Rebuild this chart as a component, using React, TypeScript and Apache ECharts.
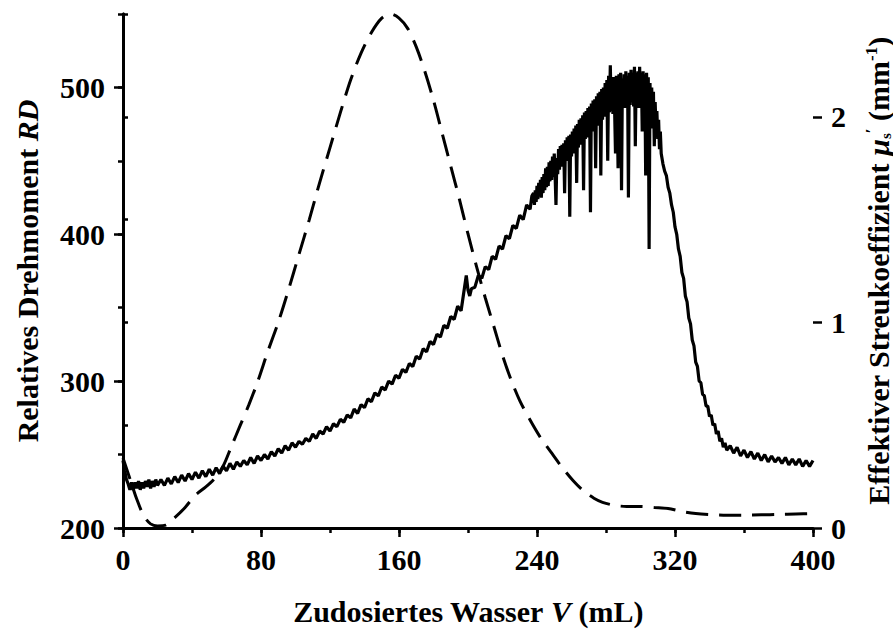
import React, { useEffect, useRef } from "react";
import * as echarts from "echarts";

// Tick values
const xMajorTicks = [0, 80, 160, 240, 320, 400];
const leftMajorTicks = [200, 300, 400, 500];
const rightMajorTicks = [0, 1, 2];

// Relatives Drehmoment RD (left axis) — [V (mL), RD]
const rdRise: [number, number][] = [
  [0, 246], [1, 239], [2, 233], [3, 230], [4, 226], [5, 231], [6, 226], [7, 231], [8, 227], [9, 232],
  [10, 226], [11, 231], [12, 227], [13, 232], [14, 228], [15, 233], [16, 227], [17, 232], [18, 228], [19, 233],
  [20, 229], [22, 233], [24, 229], [26, 234], [28, 230], [30, 235], [32, 231], [34, 236], [36, 232], [38, 237],
  [40, 233], [42, 238], [44, 234], [46, 239], [48, 235], [50, 240], [52, 236], [54, 241], [56, 237], [58, 242],
  [60, 239], [62, 244], [64, 240], [66, 245], [68, 242], [70, 246], [72, 243], [74, 248], [76, 244], [78, 249],
  [80, 246], [82, 250], [84, 247], [86, 252], [88, 249], [90, 254], [92, 251], [94, 256], [96, 253], [98, 258],
  [100, 255], [102, 259], [104, 257], [106, 261], [108, 259], [110, 264], [112, 261], [114, 266], [116, 264], [118, 269],
  [120, 266], [122, 271], [124, 269], [126, 274], [128, 272], [130, 277], [132, 275], [134, 281], [136, 278], [138, 284],
  [140, 282], [142, 288], [144, 286], [146, 292], [148, 290], [150, 296], [152, 294], [154, 300], [156, 298], [158, 304],
  [160, 302], [162, 308], [164, 306], [166, 312], [168, 310], [170, 317], [172, 315], [174, 322], [176, 320], [178, 327],
  [180, 325], [182, 332], [184, 330], [186, 338], [188, 336], [190, 344], [192, 342], [194, 351], [196, 348], [197, 356],
  [198, 364], [199, 372], [200, 362], [201, 358], [202, 363], [204, 364], [206, 372], [208, 370], [210, 378], [212, 376],
  [214, 385], [216, 383], [218, 392], [220, 390], [222, 399], [224, 397], [226, 406], [228, 404], [230, 413], [232, 410],
  [234, 420], [236, 417], [237, 426],
];

const rdPeak: [number, number][] = [
  [238, 428], [238.5, 420], [239, 430], [239.5, 422], [240, 433], [240.5, 424], [241, 435], [241.5, 426], [242, 437], [242.5, 425],
  [243, 439], [243.5, 428], [244, 441], [244.5, 430], [245, 445], [245.5, 432], [246, 446], [246.5, 433], [247, 449], [247.5, 436],
  [248, 450], [248.5, 437], [249, 453], [249.5, 439], [250, 455], [250.5, 440], [251, 420], [251.5, 452], [252, 441], [252.5, 458],
  [253, 444], [253.5, 460], [254, 446], [254.5, 461], [255, 447], [255.5, 462], [256, 428], [256.5, 464], [257, 450], [257.5, 466],
  [258, 451], [258.5, 467], [259, 412], [259.5, 468], [260, 453], [260.5, 470], [261, 455], [261.5, 472], [262, 456], [262.5, 474],
  [263, 435], [263.5, 475], [264, 459], [264.5, 478], [265, 461], [265.5, 479], [266, 462], [266.5, 481], [267, 430], [267.5, 483],
  [268, 465], [268.5, 484], [269, 466], [269.5, 486], [270, 468], [270.5, 487], [271, 415], [271.5, 489], [272, 470], [272.5, 491],
  [273, 472], [273.5, 492], [274, 445], [274.5, 494], [275, 474], [275.5, 496], [276, 476], [276.5, 497], [277, 440], [277.5, 499],
  [278, 478], [278.5, 500], [279, 480], [279.5, 503], [280, 481], [280.5, 505], [281, 450], [281.5, 508], [282, 483], [282.5, 515],
  [283, 484], [283.5, 506], [284, 482], [284.5, 507], [285, 485], [285.5, 455], [286, 508], [286.5, 486], [287, 445], [287.5, 509],
  [288, 487], [288.5, 510], [289, 430], [289.5, 506], [290, 488], [290.5, 509], [291, 486], [291.5, 511], [292, 489], [292.5, 508],
  [293, 425], [293.5, 510], [294, 488], [294.5, 512], [295, 490], [295.5, 509], [296, 487], [296.5, 514], [297, 460], [297.5, 510],
  [298, 489], [298.5, 511], [299, 486], [299.5, 514], [300, 488], [300.5, 510], [301, 470], [301.5, 511], [302, 487], [302.5, 509],
  [303, 440], [303.5, 510], [304, 485], [304.5, 507], [305, 390], [305.5, 503], [306, 480], [306.5, 500], [307, 472], [307.5, 497],
  [308, 460], [308.5, 490], [309, 470], [309.5, 484], [310, 465], [310.5, 478], [311, 458], [311.5, 470], [312, 455], [313, 448],
  [314, 443],
];

const rdFall: [number, number][] = [
  [315, 440], [316, 432], [317, 428], [318, 420], [319, 415], [320, 405], [321, 400], [322, 390], [323, 385], [324, 374],
  [325, 370], [326, 358], [327, 354], [328, 343], [329, 339], [330, 328], [331, 324], [332, 313], [333, 310], [334, 300],
  [335, 299], [336, 291], [337, 290], [338, 283], [339, 283], [340, 276], [341, 277], [342, 270], [343, 271], [344, 264],
  [345, 266], [346, 259], [347, 261], [348, 255], [349, 258], [350, 253], [352, 256], [354, 251], [356, 255], [358, 249],
  [360, 253], [362, 248], [364, 252], [366, 247], [368, 251], [370, 246], [372, 250], [374, 245], [376, 249], [378, 245],
  [380, 248], [382, 244], [384, 248], [386, 243], [388, 247], [390, 243], [392, 247], [394, 242], [396, 246], [398, 242],
  [400, 246],
];

// Effektiver Streukoeffizient mu_s' (right axis) — [V (mL), mu_s' (1/mm)]
const muData: [number, number][] = [
  [0, 0.34], [4, 0.24], [8, 0.14], [12, 0.06], [16, 0.02], [20, 0.01], [25, 0.015], [30, 0.05], [36, 0.1], [42, 0.16],
  [48, 0.2], [53, 0.24], [58, 0.3], [63, 0.4], [68, 0.5], [73, 0.6], [78, 0.71], [84, 0.86], [90, 1.0], [96, 1.16],
  [102, 1.33], [108, 1.5], [114, 1.68], [120, 1.85], [126, 2.02], [132, 2.18], [138, 2.31], [144, 2.41], [150, 2.48], [155, 2.5],
  [160, 2.48], [165, 2.43], [170, 2.34], [175, 2.22], [180, 2.08], [185, 1.92], [190, 1.76], [195, 1.6], [200, 1.43], [205, 1.27],
  [210, 1.12], [215, 0.98], [220, 0.84], [225, 0.72], [230, 0.62], [236, 0.525], [242, 0.44], [248, 0.37], [255, 0.29], [261, 0.23],
  [267, 0.18], [273, 0.145], [278, 0.125], [285, 0.11], [292, 0.105], [300, 0.105], [308, 0.1], [316, 0.095], [324, 0.08], [332, 0.07],
  [340, 0.065], [350, 0.062], [360, 0.062], [370, 0.064], [380, 0.066], [390, 0.068], [400, 0.07],
];

const FONT = "'Liberation Serif', 'Times New Roman', serif";
const BLACK = "#000";

const labelStyle = {
  color: BLACK,
  fontFamily: FONT,
  fontWeight: "bold" as const,
  fontSize: 30,
};

const nameRich = {
  t: { fontFamily: FONT, fontWeight: "bold" as const, fontSize: 30, lineHeight: 30, color: BLACK },
  i: { fontFamily: FONT, fontWeight: "bold" as const, fontStyle: "italic" as const, fontSize: 30, lineHeight: 30, color: BLACK },
  sub: { fontFamily: FONT, fontWeight: "bold" as const, fontSize: 15, lineHeight: 30, color: BLACK, verticalAlign: "bottom" as const },
  sup: { fontFamily: FONT, fontWeight: "bold" as const, fontSize: 17, lineHeight: 30, color: BLACK, verticalAlign: "top" as const },
};

export default function App() {
  const ref = useRef<HTMLDivElement>(null);

  useEffect(() => {
    if (!ref.current) return;
    const chart = echarts.init(ref.current, undefined, { renderer: "svg" });

    const axisLine = { show: true, lineStyle: { color: BLACK, width: 3 } };
    const minorTick = { show: true, inside: false, length: 5, lineStyle: { color: BLACK, width: 2.5 } };
    const rdLine = { color: BLACK, width: 3.2 };

    chart.setOption({
      animation: false,
      backgroundColor: "#fff",
      grid: {
        left: 123,
        right: 80,
        top: 14,
        bottom: 102,
        containLabel: false,
        outerBoundsMode: "none",
      },
      xAxis: [
        {
          type: "value",
          position: "bottom",
          min: 0,
          max: 400,
          interval: 40,
          axisLine,
          axisTick: minorTick,
          axisLabel: { ...labelStyle, margin: 16, customValues: xMajorTicks },
          splitLine: { show: false },
          name: "{t|Zudosiertes Wasser }{i|V}{t| (mL)}",
          nameLocation: "middle",
          nameGap: 68,
          nameMoveOverlap: false,
          nameTextStyle: { rich: nameRich },
        },
        {
          type: "value",
          position: "bottom",
          min: 0,
          max: 400,
          axisLine: { show: false },
          axisTick: { show: true, length: 9, lineStyle: { color: BLACK, width: 2.5 }, customValues: xMajorTicks },
          axisLabel: { show: false },
          splitLine: { show: false },
        },
      ],
      yAxis: [
        {
          type: "value",
          position: "left",
          min: 200,
          max: 550,
          interval: 50,
          axisLine,
          axisTick: minorTick,
          axisLabel: { ...labelStyle, margin: 18, customValues: leftMajorTicks },
          splitLine: { show: false },
          name: "{t|Relatives Drehmoment }{i|RD}",
          nameLocation: "middle",
          nameRotate: 90,
          nameGap: 81,
          nameMoveOverlap: false,
          nameTextStyle: { rich: nameRich },
        },
        {
          type: "value",
          position: "right",
          min: 0,
          max: 2.5,
          interval: 0.5,
          axisLine,
          axisTick: minorTick,
          axisLabel: { ...labelStyle, margin: 18, customValues: rightMajorTicks },
          splitLine: { show: false },
          name: "{t|Effektiver Streukoeffizient }{i|μ}{sub|s}{sup|′}{t| (mm}{sup|-1}{t|)}",
          nameLocation: "middle",
          nameRotate: 90,
          nameGap: 50,
          nameMoveOverlap: false,
          nameTextStyle: { rich: nameRich },
        },
        {
          type: "value",
          position: "left",
          min: 200,
          max: 550,
          axisLine: { show: false },
          axisTick: { show: true, length: 9, lineStyle: { color: BLACK, width: 2.5 }, customValues: leftMajorTicks },
          axisLabel: { show: false },
          splitLine: { show: false },
        },
        {
          type: "value",
          position: "right",
          min: 0,
          max: 2.5,
          axisLine: { show: false },
          axisTick: { show: true, length: 9, lineStyle: { color: BLACK, width: 2.5 }, customValues: rightMajorTicks },
          axisLabel: { show: false },
          splitLine: { show: false },
        },
      ],
      series: [
        {
          name: "RD",
          type: "line",
          xAxisIndex: 0,
          yAxisIndex: 0,
          data: [...rdRise, ...rdPeak, ...rdFall],
          showSymbol: false,
          lineStyle: rdLine,
          z: 3,
        },
        {
          name: "mu",
          type: "line",
          xAxisIndex: 0,
          yAxisIndex: 1,
          data: muData,
          showSymbol: false,
          smooth: 0.3,
          lineStyle: { color: BLACK, width: 3, type: [22, 11] },
          z: 2,
        },
      ],
    });

    return () => chart.dispose();
  }, []);

  return (
    <div
      ref={ref}
      style={{ position: "fixed", left: 0, top: 0, width: 893, height: 630, background: "#fff" }}
    />
  );
}
